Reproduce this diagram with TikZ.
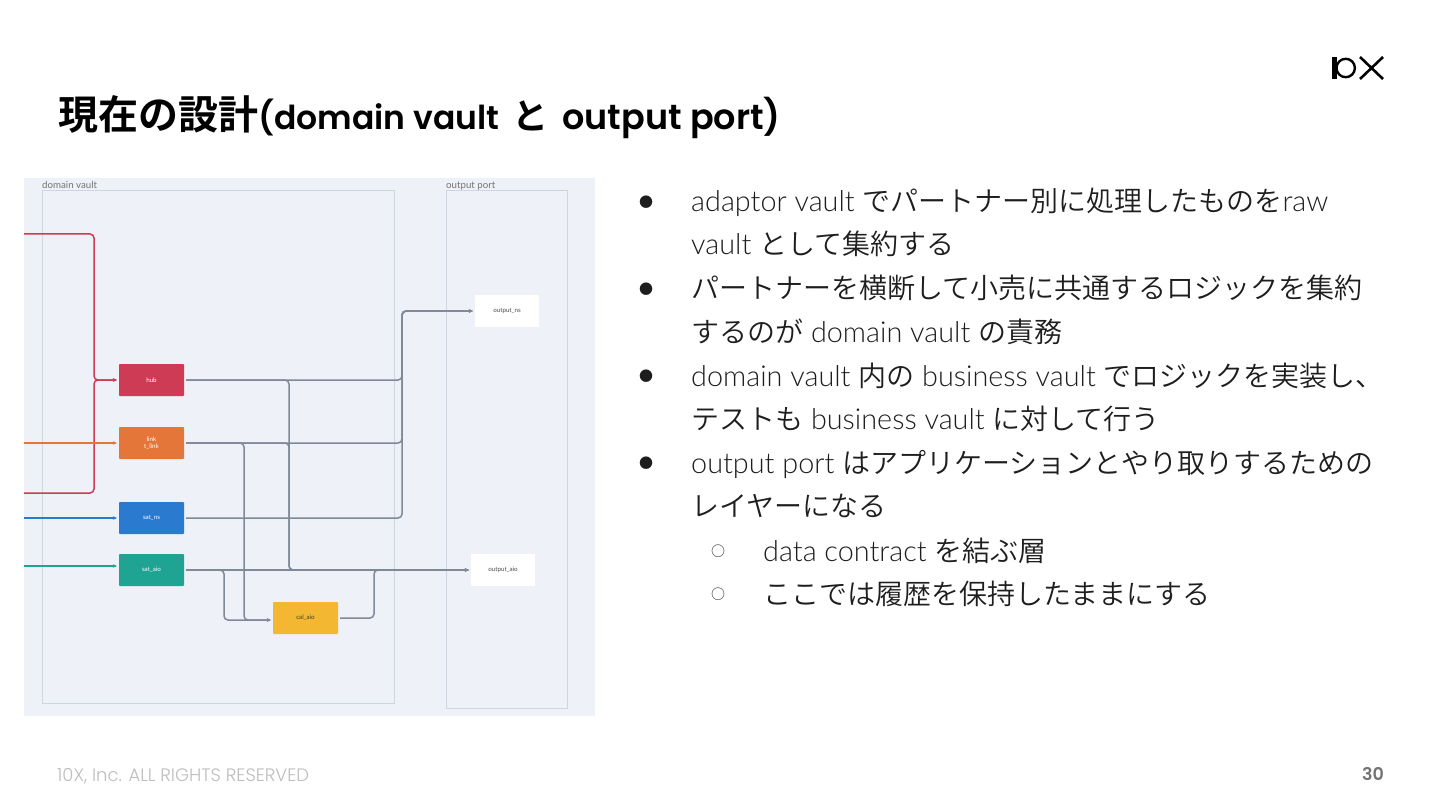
\documentclass[tikz,border=0pt]{standalone}
\usepackage{fontspec}
\setmainfont{Lato}[UprightFont=* Light,BoldFont=* Bold]
\newfontfamily\jp{Noto Sans CJK JP}[UprightFont=* DemiLight,BoldFont=* Bold]
\newfontfamily\ttl{Poppins}[UprightFont=* SemiBold]
\newfontfamily\lt{Poppins}[UprightFont=* Light,BoldFont=* SemiBold]
\newfontfamily\lbl{Lato}
\usetikzlibrary{arrows.meta}
\definecolor{panel}{HTML}{EEF1F7}
\definecolor{frameline}{HTML}{CFD6E1}
\definecolor{wire}{HTML}{7F8997}
\definecolor{hubc}{HTML}{CD3B55}
\definecolor{linkc}{HTML}{E5763A}
\definecolor{bluec}{HTML}{2A7BD0}
\definecolor{tealc}{HTML}{1FA392}
\definecolor{calc}{HTML}{F4B731}
\definecolor{body}{HTML}{1E1E1E}
\definecolor{foot}{HTML}{BDBDBD}
\newcommand{\J}[1]{{\jp\fontsize{28}{30}\selectfont #1}}
\tikzset{
  x=1pt,y=-1pt,
  bluebox/.style={minimum width=65pt,minimum height=32pt,inner sep=0pt,outer sep=2pt,text=white,font=\lbl\fontsize{6.2}{7.5}\selectfont,align=center,fill=#1,rounded corners=0.8pt},
  outbox/.style={minimum width=64pt,minimum height=32pt,inner sep=0pt,outer sep=2pt,fill=white,text=black!70,font=\lbl\fontsize{6.2}{7.5}\selectfont},
  frame/.style={draw=frameline,line width=0.7pt,fill=none},
  cap9/.style={font=\lbl\fontsize{9.7}{11}\selectfont,text=black!55,anchor=base west,inner sep=0pt},
  wirepath/.style={draw=#1,line width=1.5pt,rounded corners=4pt,-{Stealth[length=4pt,width=3.5pt]}},
  line/.style={anchor=base west,inner sep=0pt,text=body,font=\fontsize{28.8}{30}\selectfont},
  bullet/.style={anchor=center,inner sep=0pt,text=body,font=\jp\bfseries\fontsize{14}{16}\selectfont},
  obullet/.style={anchor=center,inner sep=0pt,text=body,font=\jp\fontsize{14}{16}\selectfont},
}
\begin{document}
\begin{tikzpicture}
\useasboundingbox (0,0) rectangle (1440,810);
\fill[white] (0,0) rectangle (1440,810);
% title
\node[anchor=base west,inner sep=0pt,text=black,font=\fontsize{33}{42}\selectfont] (title) at (58,130) {{\jp\bfseries\fontsize{40}{42}\selectfont 現在の設計}{\ttl(domain vault\hspace{13pt}{\jp\bfseries\fontsize{36}{42}\selectfont と}\hspace{14pt}{\fontsize{35}{42}\selectfont output port)}}};
% logo
\fill[black] (1332,57) rectangle (1336.5,79);
\draw[black,line width=2.4pt] (1345.7,68) circle (9.2);
\draw[black,line width=2.6pt] (1360,57) -- (1383,79) (1383,57) -- (1360,79);
% panel
\fill[panel] (24,178) rectangle (595,716);
\draw[frame] (42,190) rectangle (394,703);
\draw[frame] (446,190) rectangle (567.5,708);
\node[cap9] (cdv) at (42,188.5) {domain vault};
\node[cap9] (cop) at (446,188.5) {output port};
% nodes
\node[bluebox=hubc] (hub) at (151.5,380) {hub};
\node[bluebox=linkc] (link) at (151.5,443) {link\\t\_link};
\node[bluebox=bluec] (satns) at (151.5,518) {sat\_ns};
\node[bluebox=tealc] (sataio) at (151.5,570) {sat\_aio};
\node[bluebox=calc,text=black!75] (calaio) at (305.5,618) {cal\_aio};
\node[outbox] (outns) at (507,311) {output\_ns};
\node[outbox] (outaio) at (503,570) {output\_aio};
% free ends
\coordinate (r1) at (24,234);
\coordinate (r2) at (24,493);
\coordinate (o1) at (24,443);
\coordinate (b1) at (24,518);
\coordinate (t1) at (24,566);
% incoming
\draw[wirepath=hubc] (r1) -- (94,234) -- (94,380) -- (hub.west);
\draw[wirepath=hubc] (r2) -- (94,493) -- (94,380) -- (hub.west);
\draw[wirepath=linkc] (o1) -- (link.west);
\draw[wirepath=bluec] (b1) -- (satns.west);
\draw[wirepath=tealc] (t1) -- (sataio.west |- t1);
% to output_ns
\draw[wirepath=wire] (hub.east) -- (402,380) -- (402,311) -- (outns.west);
\draw[wirepath=wire] (link.east) -- (402,443) -- (402,311) -- (outns.west);
\draw[wirepath=wire] (satns.east) -- (402,518) -- (402,311) -- (outns.west);
% to output_aio
\draw[wirepath=wire] (sataio.east) -- (outaio.west);
\draw[wirepath=wire] (hub.east) -- (289,380) -- (289,570) -- (outaio.west);
\draw[wirepath=wire] (link.east) -- (289,443) -- (289,570) -- (outaio.west);
\draw[wirepath=wire] (calaio.east) -- (374,618) -- (374,570) -- (outaio.west);
% to cal_aio
\draw[wirepath=wire] (link.east) -- (244,443) -- (244,620) -- (calaio.west |- 0,620);
\draw[wirepath=wire] (sataio.east) -- (224,570) -- (224,620) -- (calaio.west |- 0,620);
% bullets
\node[bullet] (b1a) at (646,202) {●};
\node[line] (l1) at (691,212) {adaptor vault \J{でパートナー別に処理したものを}raw};
\node[line] (l2) at (691,255) {vault \J{として集約する}};
\node[bullet] (b2a) at (646,289) {●};
\node[line] (l3) at (691,298.5) {\J{パートナーを横断して小売に共通するロジックを集約}};
\node[line] (l4) at (691,342.5) {\J{するのが} domain vault \J{の責務}};
\node[bullet] (b3a) at (646,376) {●};
\node[line] (l5) at (691,386) {domain vault \J{内の} business vault \J{でロジックを実装し、}};
\node[line] (l6) at (691,429) {\J{テストも} business vault \J{に対して行う}};
\node[bullet] (b4a) at (646,463) {●};
\node[line] (l7) at (691,473) {output port \J{はアプリケーションとやり取りするための}};
\node[line] (l8) at (691,516) {\J{レイヤーになる}};
\node[obullet] (b5a) at (718,551) {○};
\node[line] (l9) at (763,561) {data contract \J{を結ぶ層}};
\node[obullet] (b6a) at (718,594) {○};
\node[line] (l10) at (763,604) {\J{ここでは履歴を保持したままにする}};
% footer
\node[anchor=base west,inner sep=0pt,text=foot,font=\lt\fontsize{18}{20}\selectfont] (foot) at (57,781) {10X, Inc. ALL RIGHTS RESERVED};
\node[anchor=base east,inner sep=0pt,text=black!55,font=\lt\bfseries\fontsize{17.5}{20}\selectfont] (pg) at (1384,780) {30};
\end{tikzpicture}
\end{document}
